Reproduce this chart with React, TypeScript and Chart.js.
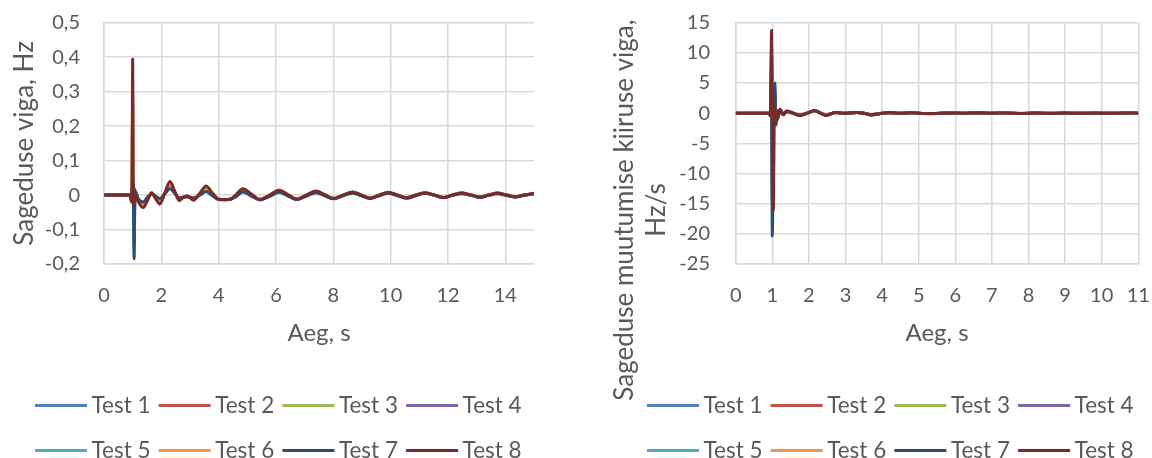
import React, { useEffect, useRef } from "react";
import { Chart, registerables } from "chart.js";

Chart.register(...registerables);

// ---------- shared ----------
const testNames = ["Test 1", "Test 2", "Test 3", "Test 4", "Test 5", "Test 6", "Test 7", "Test 8"];
const testColors = ["#4F81BD", "#C0504D", "#9BBB59", "#8064A2", "#4BACC6", "#F79646", "#2C4D75", "#772C2A"];

// ---------- left chart: Sageduse viga, Hz ----------
const leftTitleY = "Sageduse viga, Hz";
const leftTitleX = "Aeg, s";
const leftTime = [0, 0.9, 0.96, 0.98, 1.0, 1.02, 1.05, 1.08, 1.2, 1.37,
  1.52, 1.66, 1.8, 1.95, 2.12, 2.3, 2.47, 2.63, 2.76, 2.89,
  3.0, 3.12, 3.35, 3.56, 3.78, 3.99, 4.2, 4.4, 4.62, 4.84,
  5.14, 5.44, 5.78, 6.11, 6.42, 6.72, 7.06, 7.39, 7.7, 8.0,
  8.34, 8.67, 8.98, 9.28, 9.6, 9.92, 10.24, 10.56, 10.88, 11.2,
  11.52, 11.84, 12.16, 12.48, 12.8, 13.12, 13.42, 13.72, 14.04, 14.35,
  14.66, 15.0];
const leftTest1 = [0, 0, 0, 0.01, 0.03, 0.03, -0.15, 0.01, -0.014, -0.024,
  -0.008, 0.004, -0.005, -0.014, 0.004, 0.024, 0.006, -0.01, -0.006, -0.004,
  -0.006, -0.01, 0.002, 0.015, 0.0, -0.012, -0.013, -0.012, -0.002, 0.012,
  -0.001, -0.013, -0.002, 0.01, -0.001, -0.012, -0.002, 0.009, -0.001, -0.01,
  -0.001, 0.007, -0.001, -0.009, -0.001, 0.006, -0.001, -0.008, -0.001, 0.006,
  0, -0.007, 0, 0.005, 0, -0.006, 0, 0.005, 0, -0.005,
  0, 0.004];
const leftTest2 = [0, 0, -0.015, 0.04, 0.3, -0.025, 0.018, 0.004, -0.018, -0.032,
  -0.013, 0.006, -0.009, -0.023, 0.005, 0.034, 0.009, -0.014, -0.007, -0.003,
  -0.007, -0.013, 0.005, 0.023, 0.005, -0.012, -0.013, -0.012, 0.001, 0.016,
  0.002, -0.013, 0, 0.013, 0.001, -0.012, 0, 0.011, 0.001, -0.01,
  0, 0.008, 0, -0.009, 0, 0.007, 0, -0.008, 0, 0.007,
  0, -0.007, 0, 0.006, 0, -0.006, 0, 0.005, 0, -0.005,
  0, 0.005];
const leftTest3 = [0, 0, -0.01, 0.03, 0.25, -0.02, 0.015, 0.004, -0.016, -0.03,
  -0.012, 0.005, -0.008, -0.02, 0.005, 0.03, 0.008, -0.013, -0.007, -0.004,
  -0.007, -0.012, 0.004, 0.02, 0.004, -0.012, -0.013, -0.012, 0, 0.015,
  0.001, -0.013, -0.001, 0.012, 0, -0.012, -0.001, 0.01, 0, -0.01,
  -0.001, 0.008, -0.001, -0.009, -0.001, 0.007, -0.001, -0.008, 0, 0.006,
  0, -0.007, 0, 0.005, 0, -0.006, 0, 0.005, 0, -0.005,
  0, 0.004];
const leftTest4 = [0, 0, 0, 0.01, 0.02, 0.036, -0.1, 0.015, -0.015, -0.026,
  -0.009, 0.004, -0.006, -0.016, 0.004, 0.027, 0.007, -0.011, -0.006, -0.004,
  -0.006, -0.011, 0.003, 0.018, 0.002, -0.012, -0.013, -0.012, -0.001, 0.013,
  0, -0.013, -0.001, 0.011, 0, -0.012, -0.001, 0.01, 0, -0.01,
  -0.001, 0.008, -0.001, -0.009, -0.001, 0.007, -0.001, -0.008, 0, 0.006,
  0, -0.007, 0, 0.005, 0, -0.006, 0, 0.005, 0, -0.005,
  0, 0.004];
const leftTest5 = [0, 0, 0, 0.01, 0.025, 0.03, -0.13, 0.012, -0.014, -0.025,
  -0.008, 0.004, -0.005, -0.015, 0.004, 0.025, 0.006, -0.01, -0.006, -0.004,
  -0.006, -0.01, 0.002, 0.016, 0.001, -0.012, -0.013, -0.012, -0.002, 0.012,
  -0.001, -0.013, -0.002, 0.01, -0.001, -0.012, -0.002, 0.009, -0.001, -0.01,
  -0.001, 0.007, -0.001, -0.009, -0.001, 0.006, -0.001, -0.008, -0.001, 0.006,
  0, -0.007, 0, 0.005, 0, -0.006, 0, 0.005, 0, -0.005,
  0, 0.004];
const leftTest6 = [0, 0, -0.012, 0.035, 0.27, -0.022, 0.016, 0.004, -0.017, -0.031,
  -0.012, 0.005, -0.008, -0.021, 0.005, 0.031, 0.008, -0.013, -0.007, -0.004,
  -0.007, -0.012, 0.004, 0.021, 0.004, -0.012, -0.013, -0.012, 0, 0.015,
  0.001, -0.013, -0.001, 0.012, 0, -0.012, -0.001, 0.01, 0, -0.01,
  -0.001, 0.008, -0.001, -0.009, -0.001, 0.007, -0.001, -0.008, 0, 0.006,
  0, -0.007, 0, 0.005, 0, -0.006, 0, 0.005, 0, -0.005,
  0, 0.004];
const leftTest7 = [0, 0, 0, 0.01, 0.02, 0.035, -0.185, 0.01, -0.012, -0.02,
  -0.006, 0.003, -0.003, -0.01, 0.004, 0.018, 0.005, -0.008, -0.006, -0.005,
  -0.006, -0.008, 0.0, 0.01, -0.002, -0.013, -0.014, -0.013, -0.004, 0.009,
  -0.003, -0.014, -0.004, 0.008, -0.003, -0.013, -0.003, 0.007, -0.002, -0.011,
  -0.002, 0.006, -0.002, -0.01, -0.002, 0.005, -0.002, -0.009, -0.002, 0.005,
  -0.001, -0.008, -0.001, 0.004, -0.001, -0.007, -0.001, 0.004, -0.001, -0.006,
  -0.001, 0.004];
const leftTest8 = [0, 0, -0.02, 0.05, 0.395, -0.03, 0.02, 0.005, -0.02, -0.036,
  -0.015, 0.007, -0.01, -0.026, 0.005, 0.039, 0.01, -0.016, -0.008, -0.003,
  -0.008, -0.015, 0.006, 0.026, 0.006, -0.012, -0.013, -0.012, 0.002, 0.018,
  0.003, -0.013, 0.0, 0.014, 0.001, -0.012, 0.0, 0.012, 0.001, -0.01,
  0, 0.009, 0, -0.009, 0, 0.008, 0, -0.008, 0, 0.007,
  0, -0.007, 0, 0.006, 0, -0.006, 0, 0.006, 0, -0.005,
  0, 0.005];
const leftSeries = [leftTest1, leftTest2, leftTest3, leftTest4, leftTest5, leftTest6, leftTest7, leftTest8];

// ---------- right chart: Sageduse muutumise kiiruse viga, Hz/s ----------
const rightTitleY = ["Sageduse muutumise kiiruse viga,", "Hz/s"];
const rightTitleX = "Aeg, s";
const rightTime = [0, 0.9, 0.95, 0.98, 1.0, 1.03, 1.05, 1.07, 1.1, 1.15,
  1.21, 1.3, 1.39, 1.57, 1.75, 1.95, 2.16, 2.32, 2.48, 2.6,
  2.74, 3.0, 3.3, 3.5, 3.7, 3.95, 4.2, 4.5, 4.8, 5.1,
  5.4, 5.8, 6.2, 6.6, 7.0, 7.4, 7.8, 8.2, 8.6, 9.0,
  9.4, 9.8, 10.2, 10.6, 11.0];
const rightTest1 = [0, 0, 0, 7, -15, -3, -1, 4, -1.5, 0.3,
  0.5, -0.2, 0.3, 0, -0.33, 0, 0.4, 0, -0.33, -0.1,
  0.1, 0, 0.1, 0, -0.25, -0.05, 0.08, 0, 0.07, -0.04,
  -0.07, 0.04, 0, 0.05, 0, 0.04, -0.04, 0.03, -0.03, 0.02,
  -0.02, 0.02, -0.02, 0.01, 0.01];
const rightTest2 = [0, 0, -0.4, 11, -1.5, -12, 1.5, -1, 0.4, -0.8,
  0.6, -0.2, 0.33, 0, -0.36, 0, 0.42, 0, -0.36, -0.1,
  0.1, 0, 0.11, 0, -0.28, -0.05, 0.09, 0, 0.07, -0.05,
  -0.07, 0.05, 0, 0.05, 0, 0.05, -0.04, 0.03, -0.04, 0.02,
  -0.03, 0.02, -0.02, 0.02, 0.01];
const rightTest3 = [0, 0, -0.3, 9, -1, -10, 1, -0.8, 0.3, -0.6,
  0.5, -0.2, 0.3, 0, -0.34, 0, 0.4, 0, -0.34, -0.1,
  0.1, 0, 0.1, 0, -0.26, -0.05, 0.08, 0, 0.07, -0.04,
  -0.07, 0.04, 0, 0.05, 0, 0.04, -0.04, 0.03, -0.03, 0.02,
  -0.02, 0.02, -0.02, 0.01, 0.01];
const rightTest4 = [0, 0, 0.2, 6, -12, -2, -0.5, 3, -1, 0.2,
  0.4, -0.2, 0.3, 0, -0.32, 0, 0.38, 0, -0.32, -0.1,
  0.1, 0, 0.1, 0, -0.24, -0.05, 0.08, 0, 0.06, -0.04,
  -0.06, 0.04, 0, 0.04, 0, 0.04, -0.03, 0.03, -0.03, 0.02,
  -0.02, 0.02, -0.02, 0.01, 0.01];
const rightTest5 = [0, 0, 0.1, 6.5, -14, -2.5, -0.8, 3.5, -1.2, 0.3,
  0.45, -0.2, 0.3, 0, -0.33, 0, 0.39, 0, -0.33, -0.1,
  0.1, 0, 0.1, 0, -0.25, -0.05, 0.08, 0, 0.07, -0.04,
  -0.07, 0.04, 0, 0.05, 0, 0.04, -0.04, 0.03, -0.03, 0.02,
  -0.02, 0.02, -0.02, 0.01, 0.01];
const rightTest6 = [0, 0, -0.3, 10, -1.2, -11, 1.2, -0.9, 0.35, -0.7,
  0.55, -0.2, 0.32, 0, -0.35, 0, 0.41, 0, -0.35, -0.1,
  0.1, 0, 0.11, 0, -0.27, -0.05, 0.09, 0, 0.07, -0.05,
  -0.07, 0.05, 0, 0.05, 0, 0.05, -0.04, 0.03, -0.04, 0.02,
  -0.03, 0.02, -0.02, 0.02, 0.01];
const rightTest7 = [0, 0, 0.3, 8, -20.4, -4, -1, 5, -2, 0.3,
  0.5, -0.3, 0.3, 0, -0.35, 0, 0.4, 0, -0.35, -0.1,
  0.1, 0, 0.1, 0, -0.25, -0.05, 0.08, 0, 0.07, -0.05,
  -0.07, 0.04, 0, 0.05, 0, 0.04, -0.04, 0.03, -0.03, 0.02,
  -0.03, 0.02, -0.02, 0.02, 0.01];
const rightTest8 = [0, 0, -0.5, 13.7, -2, -16.1, 2, -1.5, 0.5, -1,
  0.7, -0.2, 0.35, 0, -0.38, 0, 0.45, 0, -0.38, -0.1,
  0.1, 0, 0.12, 0, -0.3, -0.05, 0.1, 0, 0.08, -0.05,
  -0.08, 0.05, 0, 0.06, 0, 0.05, -0.05, 0.03, -0.04, 0.02,
  -0.03, 0.02, -0.02, 0.02, 0.01];
const rightSeries = [rightTest1, rightTest2, rightTest3, rightTest4, rightTest5, rightTest6, rightTest7, rightTest8];

// ---------- styling ----------
const FONT = "Lato";
const TICK_SIZE = 20;
const LEGEND_SIZE = 22.5;
const XTITLE_SIZE = 24;
const YTITLE_SIZE = 26;
const TEXT_COLOR = "#595959";
const GRID_COLOR = "#d9d9d9";
const W = 576;
const H = 458;

function makeDatasets(time: number[], series: number[][]) {
  return series.map((vals, i) => ({
    label: testNames[i],
    data: time.map((t, j) => ({ x: t, y: vals[j] })),
    borderColor: testColors[i],
    backgroundColor: testColors[i],
    borderWidth: 3,
    pointRadius: 0,
    cubicInterpolationMode: "monotone" as const,
    order: 8 - i,
  }));
}

function legendPlugin(startX: number) {
  return {
    id: "excelLegend",
    afterDraw(chart: any) {
      const ctx = chart.ctx as CanvasRenderingContext2D;
      const ds = chart.data.datasets;
      const rowsY = [405.5, 450.5];
      const pitch = 123.7;
      const lineLen = 52;
      ctx.save();
      ctx.font = `${LEGEND_SIZE}px ${FONT}`;
      ctx.textBaseline = "middle";
      ctx.textAlign = "left";
      for (let r = 0; r < 2; r++) {
        for (let k = 0; k < 4; k++) {
          const d = ds[r * 4 + k];
          const x = startX + k * pitch;
          const y = rowsY[r];
          ctx.strokeStyle = d.borderColor;
          ctx.lineWidth = 3;
          ctx.beginPath();
          ctx.moveTo(x, y);
          ctx.lineTo(x + lineLen, y);
          ctx.stroke();
          ctx.fillStyle = TEXT_COLOR;
          ctx.fillText(d.label, x + lineLen + 4.5, y);
        }
      }
      ctx.restore();
    },
  };
}

function rotatedTitlePlugin(lines: string[], cx: number, cy: number, spacing: number) {
  return {
    id: "rotatedTitle",
    afterDraw(chart: any) {
      const ctx = chart.ctx as CanvasRenderingContext2D;
      ctx.save();
      ctx.font = `${YTITLE_SIZE}px ${FONT}`;
      ctx.fillStyle = TEXT_COLOR;
      ctx.textAlign = "center";
      ctx.textBaseline = "middle";
      ctx.translate(cx, cy);
      ctx.rotate(-Math.PI / 2);
      lines.forEach((ln, i) => ctx.fillText(ln, 0, i * spacing));
      ctx.restore();
    },
  };
}

function commaTick(v: number) {
  if (Math.abs(v) < 1e-9) return "0";
  return v.toFixed(1).replace(".", ",");
}

const fixX = (h: number) => (s: any) => { s.height = h; s.paddingLeft = 0; s.paddingRight = 0; };
const fixY = (w: number) => (s: any) => { s.width = w; s.paddingTop = 0; s.paddingBottom = 0; };

function buildLeft(canvas: HTMLCanvasElement) {
  return new Chart(canvas, {
    type: "line",
    data: { datasets: makeDatasets(leftTime, leftSeries) as any },
    options: {
      animation: false,
      responsive: false,
      devicePixelRatio: 1,
      layout: { padding: { left: 0, top: 22.7, right: 42, bottom: 110 } },
      plugins: { legend: { display: false }, tooltip: { enabled: false } },
      scales: {
        x: {
          type: "linear",
          min: 0,
          max: 15,
          ticks: { stepSize: 2, includeBounds: false, padding: 20, color: TEXT_COLOR, font: { family: FONT, size: TICK_SIZE } },
          grid: { color: GRID_COLOR, lineWidth: 1.5, drawTicks: false },
          border: { color: GRID_COLOR, width: 1.5 },
          title: { display: true, text: leftTitleX, color: TEXT_COLOR, font: { family: FONT, size: XTITLE_SIZE }, padding: { top: 0, bottom: 0 } },
          afterFit: fixX(84),
        },
        y: {
          type: "linear",
          min: -0.2,
          max: 0.5,
          ticks: { stepSize: 0.1, padding: 24, color: TEXT_COLOR, font: { family: FONT, size: TICK_SIZE }, callback: (v: any) => commaTick(Number(v)) },
          grid: { color: GRID_COLOR, lineWidth: 1.5, drawTicks: false },
          border: { color: GRID_COLOR, width: 1.5 },
          title: { display: true, text: leftTitleY, color: TEXT_COLOR, font: { family: FONT, size: YTITLE_SIZE }, padding: { top: 9, bottom: 0 } },
          afterFit: fixY(104),
        },
      },
    } as any,
    plugins: [legendPlugin(35)],
  });
}

function buildRight(canvas: HTMLCanvasElement) {
  return new Chart(canvas, {
    type: "line",
    data: { datasets: makeDatasets(rightTime, rightSeries) as any },
    options: {
      animation: false,
      responsive: false,
      devicePixelRatio: 1,
      layout: { padding: { left: 0, top: 22.7, right: 13.7, bottom: 110 } },
      plugins: { legend: { display: false }, tooltip: { enabled: false } },
      scales: {
        x: {
          type: "linear",
          min: 0,
          max: 11,
          ticks: { stepSize: 1, padding: 20, color: TEXT_COLOR, font: { family: FONT, size: TICK_SIZE } },
          grid: { color: GRID_COLOR, lineWidth: 1.5, drawTicks: false },
          border: { color: GRID_COLOR, width: 1.5 },
          title: { display: true, text: rightTitleX, color: TEXT_COLOR, font: { family: FONT, size: XTITLE_SIZE }, padding: { top: 0, bottom: 0 } },
          afterFit: fixX(84),
        },
        y: {
          type: "linear",
          min: -25,
          max: 15,
          ticks: { stepSize: 5, padding: 25.7, color: TEXT_COLOR, font: { family: FONT, size: TICK_SIZE } },
          grid: { color: GRID_COLOR, lineWidth: 1.5, drawTicks: false },
          border: { color: GRID_COLOR, width: 1.5 },
          title: { display: false },
          afterFit: fixY(159.7),
        },
      },
    } as any,
    plugins: [legendPlugin(71), rotatedTitlePlugin(rightTitleY, 49, 210, 31.7)],
  });
}

export default function App() {
  const leftRef = useRef<HTMLCanvasElement>(null);
  const rightRef = useRef<HTMLCanvasElement>(null);

  useEffect(() => {
    let charts: Chart[] = [];
    let cancelled = false;
    const build = () => {
      if (cancelled || !leftRef.current || !rightRef.current) return;
      charts = [buildLeft(leftRef.current), buildRight(rightRef.current)];
    };
    const fonts = (document as any).fonts;
    if (fonts && fonts.load) {
      fonts.load(`20px ${FONT}`).then(build, build);
    } else {
      build();
    }
    return () => {
      cancelled = true;
      charts.forEach((c) => c.destroy());
    };
  }, []);

  return (
    <div style={{ position: "absolute", left: 0, top: 0, width: 1152, height: H, background: "#fff" }}>
      <canvas ref={leftRef} width={W} height={H} style={{ position: "absolute", left: 0, top: 0, width: W, height: H }} />
      <canvas ref={rightRef} width={W} height={H} style={{ position: "absolute", left: W, top: 0, width: W, height: H }} />
    </div>
  );
}
